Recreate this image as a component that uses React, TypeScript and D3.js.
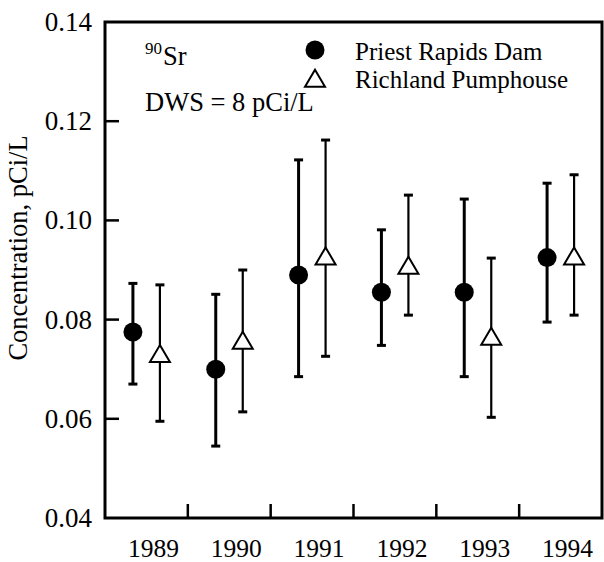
import React from "react";
import * as d3 from "d3";

const years = ["1989", "1990", "1991", "1992", "1993", "1994"];
const priestValue = [0.0775, 0.0700, 0.0890, 0.0855, 0.0855, 0.0925];
const priestLow = [0.0670, 0.0545, 0.0685, 0.0748, 0.0685, 0.0795];
const priestHigh = [0.0873, 0.0851, 0.1122, 0.0981, 0.1043, 0.1075];
const richValue = [0.0728, 0.0755, 0.0925, 0.0906, 0.0763, 0.0925];
const richLow = [0.0595, 0.0614, 0.0726, 0.0809, 0.0603, 0.0809];
const richHigh = [0.0870, 0.0900, 0.1162, 0.1051, 0.0924, 0.1092];
const yTicks = [0.04, 0.06, 0.08, 0.10, 0.12, 0.14];

const W = 604, H = 562;
const L = 105, R = 602, T = 22, B = 518;
const FONT = "Liberation Serif, serif";
const ts = { fontFamily: FONT };

export default function App() {
  const x = d3.scaleBand<string>().domain(years).range([L, R]);
  const y = d3.scaleLinear().domain([0.04, 0.14]).range([B, T]);
  const bw = x.bandwidth();
  const off = 13.5;
  const cap = 4.5;
  const tri = (cx: number, cy: number) => {
    const h = 17, w = 20;
    return `M${cx},${cy - h * 0.6}L${cx + w / 2},${cy + h * 0.4}L${cx - w / 2},${cy + h * 0.4}Z`;
  };
  return (
    <div style={{ position: "fixed", left: 0, top: 0 }}>
      <svg width={W} height={H} style={{ display: "block", background: "#fff", fontFamily: FONT }}>
        {years.map((yr, i) => {
          const cx = (x(yr) as number) + bw / 2 - off;
          return (
            <g key={"p" + yr} stroke="#000" strokeWidth={3}>
              <line x1={cx} x2={cx} y1={y(priestLow[i])} y2={y(priestHigh[i])} />
              <line x1={cx - cap} x2={cx + cap} y1={y(priestLow[i])} y2={y(priestLow[i])} />
              <line x1={cx - cap} x2={cx + cap} y1={y(priestHigh[i])} y2={y(priestHigh[i])} />
            </g>
          );
        })}
        {years.map((yr, i) => {
          const cx = (x(yr) as number) + bw / 2 + off;
          return (
            <g key={"r" + yr} stroke="#000" strokeWidth={2.2}>
              <line x1={cx} x2={cx} y1={y(richLow[i])} y2={y(richHigh[i])} />
              <line x1={cx - cap} x2={cx + cap} y1={y(richLow[i])} y2={y(richLow[i])} strokeWidth={3} />
              <line x1={cx - cap} x2={cx + cap} y1={y(richHigh[i])} y2={y(richHigh[i])} strokeWidth={3} />
            </g>
          );
        })}
        {years.map((yr, i) => (
          <circle key={"pc" + yr} cx={(x(yr) as number) + bw / 2 - off} cy={y(priestValue[i])} r={9.5} fill="#000" />
        ))}
        {years.map((yr, i) => (
          <path key={"rt" + yr} d={tri((x(yr) as number) + bw / 2 + off, y(richValue[i]))} fill="#fff" stroke="#000" strokeWidth={2} />
        ))}
        <rect x={L} y={T} width={R - L} height={B - T} fill="none" stroke="#000" strokeWidth={3} />
        {yTicks.map((t) => (
          <g key={"yt" + t}>
            {t > 0.04 && t < 0.14 && <line x1={L} x2={L + 14} y1={y(t)} y2={y(t)} stroke="#000" strokeWidth={2.5} />}
            <text x={92} y={y(t) + 9} textAnchor="end" fontSize={27} style={ts}>{t.toFixed(2)}</text>
          </g>
        ))}
        {years.slice(1).map((yr) => (
          <line key={"xt" + yr} x1={x(yr) as number} x2={x(yr) as number} y1={B} y2={B - 14} stroke="#000" strokeWidth={2.5} />
        ))}
        {years.map((yr) => (
          <text key={"xl" + yr} x={(x(yr) as number) + bw / 2 + 7} y={557} textAnchor="middle" fontSize={25.5} style={ts}>{yr}</text>
        ))}
        <text transform={`translate(27,248) rotate(-90)`} textAnchor="middle" fontSize={26.5} style={ts}>Concentration, pCi/L</text>
        <text x={145} y={54} fontSize={17} style={ts}>90</text>
        <text x={163} y={65} fontSize={26.5} style={ts}>Sr</text>
        <text x={145} y={111} fontSize={26.5} style={ts}>DWS = 8 pCi/L</text>
        <circle cx={315} cy={50} r={9.5} fill="#000" />
        <path d={tri(315, 80)} fill="#fff" stroke="#000" strokeWidth={2} />
        <text x={355} y={60} fontSize={25} style={ts}>Priest Rapids Dam</text>
        <text x={355} y={88} fontSize={25} style={ts}>Richland Pumphouse</text>
      </svg>
    </div>
  );
}
